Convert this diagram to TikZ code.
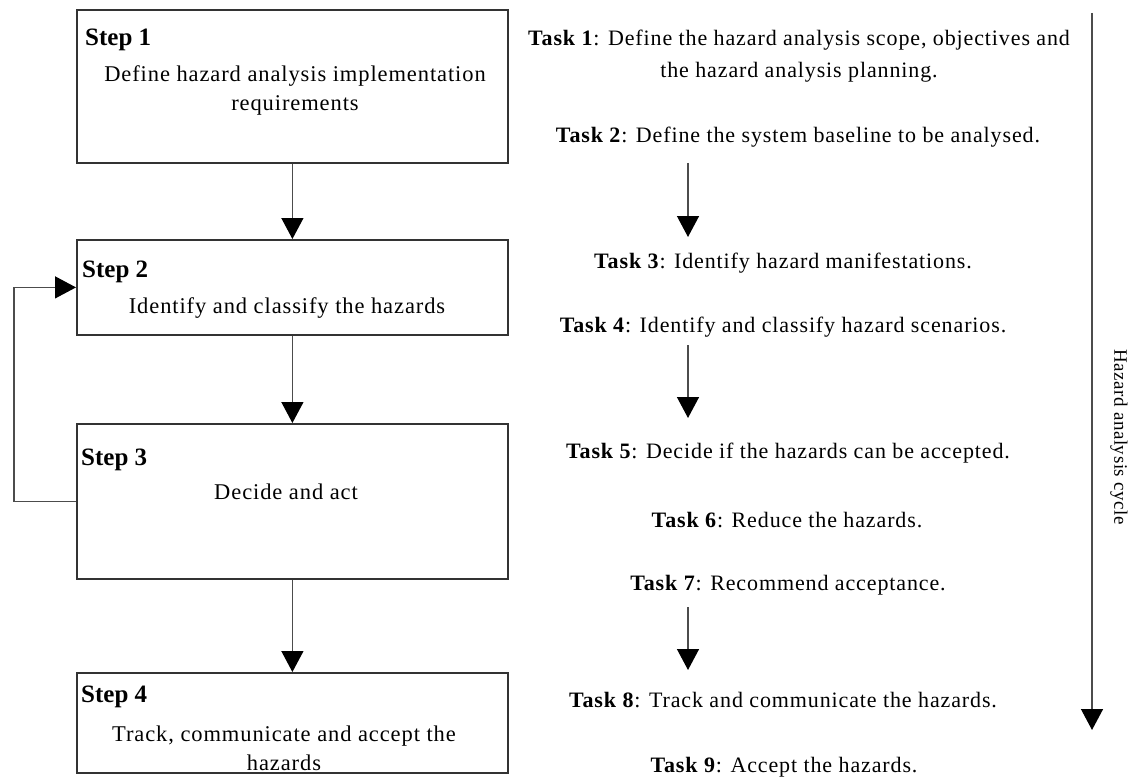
\documentclass[tikz,border=0pt]{standalone}
\usepackage{fontspec}
\setmainfont{Liberation Serif}
\usetikzlibrary{arrows.meta}
\begin{document}
\begin{tikzpicture}[x=1pt,y=-1pt,
  stepbox/.style={draw=black!80,line width=1.8pt,minimum width=431pt,inner sep=0pt,anchor=north west},
  title/.style={font=\fontsize{25}{28}\selectfont\bfseries,anchor=west,inner sep=0pt},
  body/.style={font=\fontsize{22.5}{29}\selectfont\addfontfeature{LetterSpace=4},align=center,inner sep=0pt},
  task/.style={font=\fontsize{22}{32}\selectfont\addfontfeature{LetterSpace=4},align=center,inner sep=0pt},
  flow/.style={draw=black!70,line width=1.4pt,-{Triangle[width=22pt,length=21pt,black]}},
]
\useasboundingbox (0,0) rectangle (1131,778);

% the four steps
\node[stepbox,minimum height=153pt] (s1) at (76,9) {};
\node[stepbox,minimum height=95pt]  (s2) at (76,239) {};
\node[stepbox,minimum height=155pt] (s3) at (76,423) {};
\node[stepbox,minimum height=100pt] (s4) at (76,672) {};

\node[title] (h1) at (85,40) {Step 1};
\node[body]  (b1) at (295,90) {Define hazard analysis implementation\\requirements};
\node[title] (h2) at (82,272) {Step 2};
\node[body]  (b2) at (287,308) {Identify and classify the hazards};
\node[title] (h3) at (81,460) {Step 3};
\node[body]  (b3) at (286,492) {Decide and act};
\node[title] (h4) at (81,697) {Step 4};
\node[body]  (b4) at (284,748) {Track, communicate and accept the\\hazards};

% step connectors
\draw[flow] (s1.south) -- (s2.north);
\draw[flow] (s2.south) -- (s3.north);
\draw[flow] (s3.south) -- (s4.north);
\draw[flow] (s3.west) -- ++(-62,0) |- (s2.west);

% tasks
\node[task] (t1) at (799,56) {\textbf{Task 1}: Define the hazard analysis scope, objectives and\\the hazard analysis planning.};
\node[task] (t2) at (798,137) {\textbf{Task 2}: Define the system baseline to be analysed.};
\node[task] (t3) at (783,263) {\textbf{Task 3}: Identify hazard manifestations.};
\node[task] (t4) at (783,327) {\textbf{Task 4}: Identify and classify hazard scenarios.};
\node[task] (t5) at (788,453) {\textbf{Task 5}: Decide if the hazards can be accepted.};
\node[task] (t6) at (787,520) {\textbf{Task 6}: Reduce the hazards.};
\node[task] (t7) at (788,585) {\textbf{Task 7}: Recommend acceptance.};
\node[task] (t8) at (783,700) {\textbf{Task 8}: Track and communicate the hazards.};
\node[task] (t9) at (784,767) {\textbf{Task 9}: Accept the hazards.};

% task connectors
\coordinate (a1) at (688,163); \coordinate (a2) at (688,237);
\coordinate (a3) at (688,345); \coordinate (a4) at (688,418);
\coordinate (a5) at (688,607); \coordinate (a6) at (688,670);
\draw[flow] (a1) -- (a2);
\draw[flow] (a3) -- (a4);
\draw[flow] (a5) -- (a6);

% the cycle arrow
\coordinate (c1) at (1092,13); \coordinate (c2) at (1092,730);
\draw[flow] (c1) -- (c2);
\node[font=\fontsize{19}{21}\selectfont\addfontfeature{LetterSpace=3},rotate=-90,inner sep=0pt] (cyc) at (1119,437) {Hazard analysis cycle};
\end{tikzpicture}
\end{document}
